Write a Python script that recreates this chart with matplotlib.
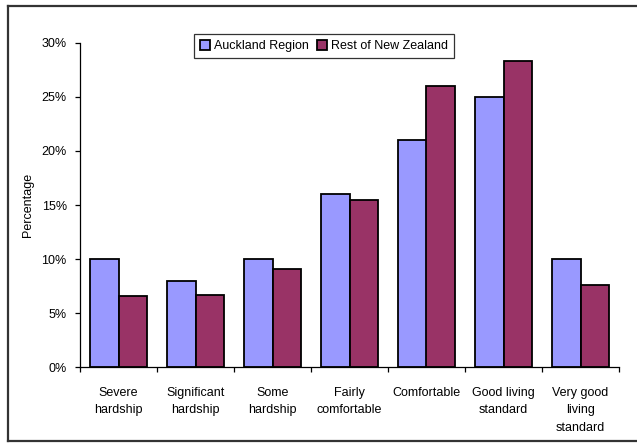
import matplotlib
matplotlib.use("Agg")
import matplotlib.pyplot as plt
import numpy as np
from matplotlib.ticker import FuncFormatter, FixedLocator
from matplotlib.lines import Line2D

plt.rcParams['font.family'] = ['Liberation Sans', 'DejaVu Sans']

categories = ["Severe\nhardship", "Significant\nhardship", "Some\nhardship",
              "Fairly\ncomfortable", "Comfortable", "Good living\nstandard",
              "Very good\nliving\nstandard"]
auckland = [10.0, 8.0, 10.0, 16.0, 21.0, 25.0, 10.0]
rest_nz = [6.6, 6.7, 9.1, 15.5, 26.0, 28.3, 7.6]
series_names = ["Auckland Region", "Rest of New Zealand"]
y_ticks = [0, 5, 10, 15, 20, 25, 30]

W, H = 637, 446
fig = plt.figure(figsize=(W / 100, H / 100), dpi=100)

# axes placement in pixel terms
left, right, top, bottom = 80, 619, 42.7, 367.3
ax = fig.add_axes([left / W, 1 - bottom / H, (right - left) / W, (bottom - top) / H])

x = np.arange(len(categories))
bw = 0.37
ax.bar(x - bw / 2, auckland, bw, color="#9999FF", edgecolor="black", linewidth=1.3,
       label=series_names[0])
ax.bar(x + bw / 2, rest_nz, bw, color="#993366", edgecolor="black", linewidth=1.3,
       label=series_names[1])

ax.set_xlim(-0.5, len(categories) - 0.5)
ax.set_ylim(0, 30)
ax.set_yticks(y_ticks)
ax.yaxis.set_major_formatter(FuncFormatter(lambda v, p: f"{v:.0f}%"))

# category boundaries as tick marks, names centred under each group
ax.xaxis.set_major_locator(FixedLocator(np.arange(-0.5, len(categories), 1.0)))
ax.xaxis.set_major_formatter(FuncFormatter(lambda v, p: ""))
ax.xaxis.set_minor_locator(FixedLocator(x))
ax.set_xticklabels(categories, minor=True, fontsize=9, linespacing=1.6, va="top")
ax.tick_params(axis="x", which="minor", length=0, pad=14)
ax.tick_params(axis="x", which="major", length=3.5, width=0.9, direction="out")
ax.tick_params(axis="y", length=3.5, width=0.9, direction="out", pad=6, labelsize=9)

for s in ("top", "right"):
    ax.spines[s].set_visible(False)
for s in ("left", "bottom"):
    ax.spines[s].set_linewidth(0.9)

ax.set_ylabel("Percentage", fontsize=9)
ax.yaxis.set_label_coords((34 - left) / (right - left), 0.5)

handles, labels = ax.get_legend_handles_labels()
leg = fig.legend(handles, labels, loc="center", bbox_to_anchor=(324 / W, 1 - 46 / H),
                 ncol=2, fontsize=9, frameon=True, fancybox=False, shadow=False,
                 handlelength=0.8, handleheight=0.8, handletextpad=0.35,
                 columnspacing=0.6, borderpad=0.5, borderaxespad=0)
leg.get_frame().set_edgecolor("black")
leg.get_frame().set_linewidth(0.9)

# outer chart border (left, top, bottom)
lc = "#333333"
fig.add_artist(Line2D([8 / W, 8 / W], [1 - 441 / H, 1 - 6 / H], color=lc, lw=1.6,
                      transform=fig.transFigure))
fig.add_artist(Line2D([8 / W, 1.0], [1 - 6 / H, 1 - 6 / H], color=lc, lw=1.6,
                      transform=fig.transFigure))
fig.add_artist(Line2D([8 / W, 1.0], [1 - 441 / H, 1 - 441 / H], color=lc, lw=1.6,
                      transform=fig.transFigure))

fig.savefig("out.png", dpi=100)
